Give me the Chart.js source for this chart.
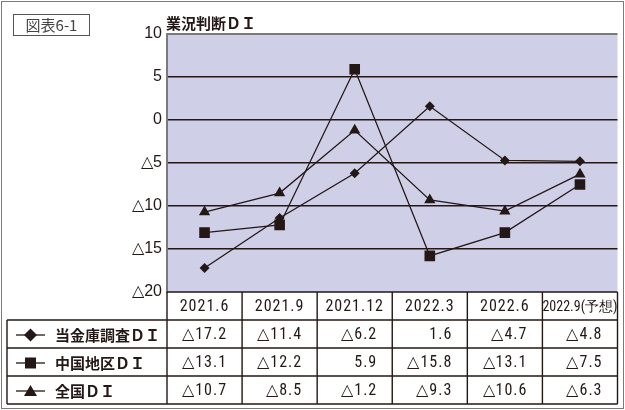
<!DOCTYPE html>
<html>
<head>
<meta charset="utf-8">
<script src="https://cdn.jsdelivr.net/npm/chart.js@4.4.0/dist/chart.umd.min.js"></script>
<style>
  html, body { margin: 0; padding: 0; background: #fff; }
</style>
</head>
<body>
<canvas id="diChart" width="625" height="410"></canvas>
<script>
// Kategóriák és sorozatok (értékek a képről)
const categories = ['2021.6', '2021.9', '2021.12', '2022.3', '2022.6', '2022.9(予想)'];
const seriesNames = ['当金庫調査ＤＩ', '中国地区ＤＩ', '全国ＤＩ'];
const shinkinDI = [-17.2, -11.4, -6.2, 1.6, -4.7, -4.8];
const chugokuDI = [-13.1, -12.2, 5.9, -15.8, -13.1, -7.5];
const zenkokuDI = [-10.7, -8.5, -1.2, -9.3, -10.6, -6.3];
const yTicks = [10, 5, 0, -5, -10, -15, -20];

const INK = '#231815';
const BG = '#cfcfe7';
const GRAY = '#7a7a7a';
const NARROW = '"Liberation Sans Narrow", "Roboto Condensed", "Liberation Sans"';
const pointStyles = ['rectRot', 'rect', 'triangle'];
const seriesValues = [shinkinDI, chugokuDI, zenkokuDI];

function fmt(v) {
    return v < 0 ? '△' + Math.abs(v).toFixed(1) : v.toFixed(1);
}
function fmtTick(v) {
    return v < 0 ? '△' + Math.abs(v) : String(v);
}

// Jelölő rajzolása a táblázat bal oszlopában
function drawMarker(ctx, style, x, y) {
    ctx.beginPath();
    if (style === 'rectRot') {
        ctx.moveTo(x, y - 6.5); ctx.lineTo(x + 6.5, y); ctx.lineTo(x, y + 6.5); ctx.lineTo(x - 6.5, y);
    } else if (style === 'rect') {
        ctx.rect(x - 5.5, y - 5.5, 11, 11);
    } else {
        ctx.moveTo(x, y - 6); ctx.lineTo(x + 6.5, y + 5); ctx.lineTo(x - 6.5, y + 5);
    }
    ctx.closePath();
    ctx.fill();
}

const frame = {
    id: 'frame',
    beforeDraw(chart) {
        const { ctx, chartArea: a } = chart;
        ctx.save();
        ctx.fillStyle = '#fff';
        ctx.fillRect(0, 0, chart.width, chart.height);
        ctx.fillStyle = BG;
        ctx.fillRect(a.left, a.top, a.right - a.left, a.bottom - a.top);
        // külső keret
        ctx.strokeStyle = GRAY;
        ctx.lineWidth = 1;
        ctx.strokeRect(1.5, 1.5, 622, 407);
        // címke doboz
        ctx.strokeStyle = '#555';
        ctx.strokeRect(13.5, 14.5, 76, 21);
        ctx.fillStyle = '#444';
        ctx.font = '15px "Noto Sans CJK JP"';
        ctx.textBaseline = 'middle';
        ctx.textAlign = 'center';
        ctx.fillText('図表6-1', 51.5, 25.5);
        // cím
        ctx.fillStyle = INK;
        ctx.font = 'bold 15px "Noto Sans CJK JP"';
        ctx.textAlign = 'left';
        ctx.fillText('業況判断ＤＩ', 166, 23);
        ctx.restore();
    }
};

const table = {
    id: 'table',
    afterDraw(chart) {
        const { ctx, chartArea: a, scales: { x } } = chart;
        const colW = (a.right - a.left) / categories.length;
        const rowH = 28;
        const top = a.bottom;
        const left = 7;
        const bottom = top + rowH * 4;
        ctx.save();
        ctx.strokeStyle = INK;
        ctx.lineWidth = 1.4;
        ctx.beginPath();
        // vízszintes vonalak
        ctx.moveTo(a.left, top); ctx.lineTo(a.right, top);
        for (let r = 1; r <= 4; r++) {
            ctx.moveTo(left, top + r * rowH); ctx.lineTo(a.right, top + r * rowH);
        }
        // függőleges vonalak
        ctx.moveTo(left, top + rowH); ctx.lineTo(left, bottom);
        for (let c = 0; c <= categories.length; c++) {
            const cx = a.left + c * colW;
            ctx.moveTo(cx, top); ctx.lineTo(cx, bottom);
        }
        ctx.stroke();

        ctx.fillStyle = INK;
        ctx.textBaseline = 'middle';
        // fejléc
        categories.forEach((cat, i) => {
            const cx = x.getPixelForValue(i);
            ctx.textAlign = 'center';
            const long = cat.length > 8;
            ctx.font = (long ? '14px ' : '16px ') + NARROW;
            ctx.letterSpacing = long ? '0px' : '1px';
            ctx.fillText(cat, cx, top + rowH / 2 + 1);
        });
        // sorok
        seriesValues.forEach((vals, r) => {
            const cy = top + rowH * (r + 1.5) + 1;
            ctx.letterSpacing = '0px';
            ctx.lineWidth = 1.3;
            ctx.beginPath();
            ctx.moveTo(16, cy); ctx.lineTo(45, cy);
            ctx.stroke();
            drawMarker(ctx, pointStyles[r], 30.5, cy);
            ctx.textAlign = 'left';
            ctx.font = 'bold 15px "Noto Sans CJK JP"';
            ctx.fillText(seriesNames[r], 55, cy);
            ctx.letterSpacing = '1px';
            ctx.textAlign = 'right';
            ctx.font = '16px ' + NARROW;
            vals.forEach((v, i) => {
                const rx = a.left + (i + 1) * colW - 15;
                ctx.fillText(fmt(v), rx, cy);
            });
        });
        ctx.restore();
    }
};

new Chart(document.getElementById('diChart'), {
    type: 'line',
    data: {
        labels: categories,
        datasets: seriesNames.map((name, i) => ({
            label: name,
            data: seriesValues[i],
            borderColor: INK,
            backgroundColor: INK,
            borderWidth: 1.3,
            pointStyle: pointStyles[i],
            pointRadius: [5, 7.5, 6.5][i],
            pointBorderWidth: 0,
            tension: 0
        }))
    },
    options: {
        responsive: false,
        animation: false,
        layout: { padding: { top: 34, right: 2, bottom: 118, left: 0 } },
        plugins: { legend: { display: false }, tooltip: { enabled: false } },
        scales: {
            x: { display: false, offset: true },
            y: {
                min: -20,
                max: 10,
                afterFit(scale) { scale.width = 167; },
                afterBuildTicks(scale) { scale.ticks = yTicks.map(v => ({ value: v })); },
                ticks: {
                    padding: 5,
                    color: INK,
                    font: { family: '"Liberation Sans"', size: 16 },
                    callback: v => fmtTick(v)
                },
                grid: {
                    drawTicks: false,
                    color: c => c.tick.value === 10 ? GRAY : (c.tick.value === -20 ? 'rgba(0,0,0,0)' : INK),
                    lineWidth: c => c.tick.value === 10 ? 2 : 1.4
                },
                border: { display: true, color: GRAY, width: 2 }
            }
        }
    },
    plugins: [frame, table]
});
</script>
</body>
</html>
